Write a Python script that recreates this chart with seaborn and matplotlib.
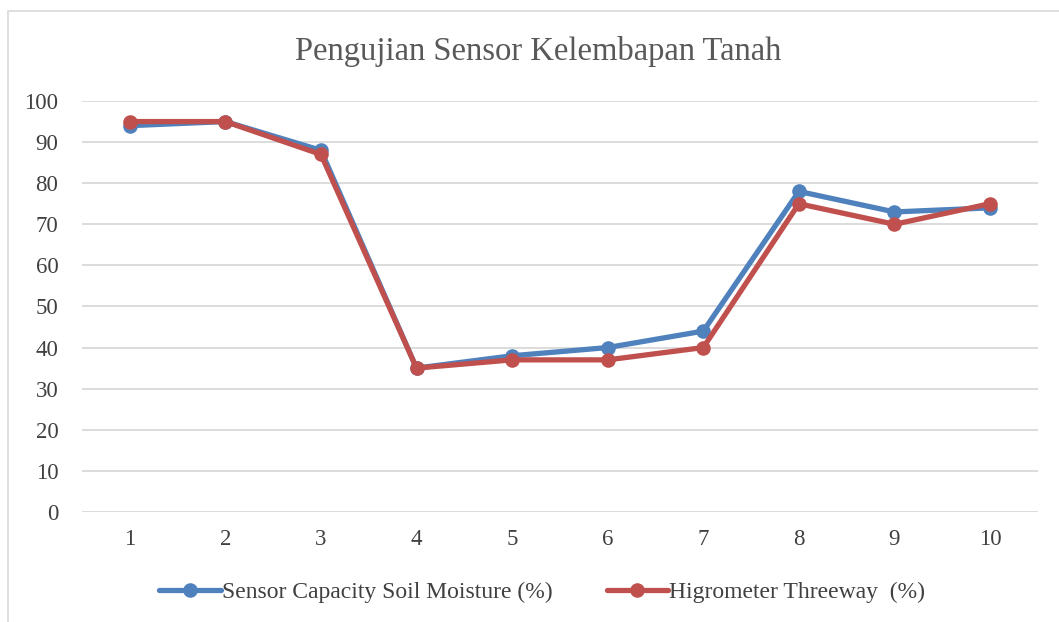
import pandas as pd
import matplotlib.pyplot as plt
import seaborn as sns
from matplotlib.patches import Rectangle

# --- Data ---
samples = [1, 2, 3, 4, 5, 6, 7, 8, 9, 10]
sensor_capacity = [94, 95, 88, 35, 38, 40, 44, 78, 73, 74]
higrometer = [95, 95, 87, 35, 37, 37, 40, 75, 70, 75]
series_names = ["Sensor Capacity Soil Moisture (%)", "Higrometer Threeway  (%)"]
y_ticks = [0, 10, 20, 30, 40, 50, 60, 70, 80, 90, 100]

df = pd.DataFrame({
    "Sample": samples * 2,
    "Value": sensor_capacity + higrometer,
    "Series": [series_names[0]] * len(samples) + [series_names[1]] * len(samples),
})

sns.set_style("white")
plt.rcParams["font.family"] = ["Liberation Serif", "DejaVu Serif"]

fig = plt.figure(figsize=(10.59, 6.22), dpi=100)
ax = fig.add_axes([0.0774, 0.177, 0.9026, 0.6606])

palette = {series_names[0]: "#4F81BD", series_names[1]: "#C0504D"}
sns.lineplot(data=df, x="Sample", y="Value", hue="Series", palette=palette,
             marker="o", markersize=10.5, markeredgewidth=0, linewidth=3.8,
             ax=ax, legend=True)

# category style axis: half a slot of padding each side
ax.set_xlim(0.5, 10.5)
ax.set_ylim(0, 100)
ax.set_xticks(samples)
ax.set_xticklabels([str(s) for s in samples])
ax.set_yticks(y_ticks)
ax.set_xlabel("")
ax.set_ylabel("")
ax.tick_params(axis="both", length=0, labelsize=16.5, labelcolor="#404040")
ax.tick_params(axis="x", pad=12)
ax.tick_params(axis="y", pad=17)

ax.grid(axis="y", color="#d9d9d9", linewidth=1.3)
ax.set_axisbelow(True)
for side in ["top", "right", "left", "bottom"]:
    ax.spines[side].set_visible(False)

fig.text(0.508, 0.918, "Pengujian Sensor Kelembapan Tanah", ha="center", va="center",
         fontsize=23.5, color="#595959")

handles, labels = ax.get_legend_handles_labels()
ax.legend(handles, labels, loc="center", bbox_to_anchor=(0.512, 0.048),
          bbox_transform=fig.transFigure, ncol=2, frameon=False, fontsize=17,
          handlelength=2.6, handletextpad=0.05, columnspacing=2.3,
          labelcolor="#404040")

# outer chart frame
fig.patches.append(Rectangle((8 / 1059, -0.02), 1.05, 1 - 11 / 622 + 0.02,
                             transform=fig.transFigure, fill=False,
                             edgecolor="#d9d9d9", linewidth=1.2))

fig.savefig("out.png", dpi=100)
